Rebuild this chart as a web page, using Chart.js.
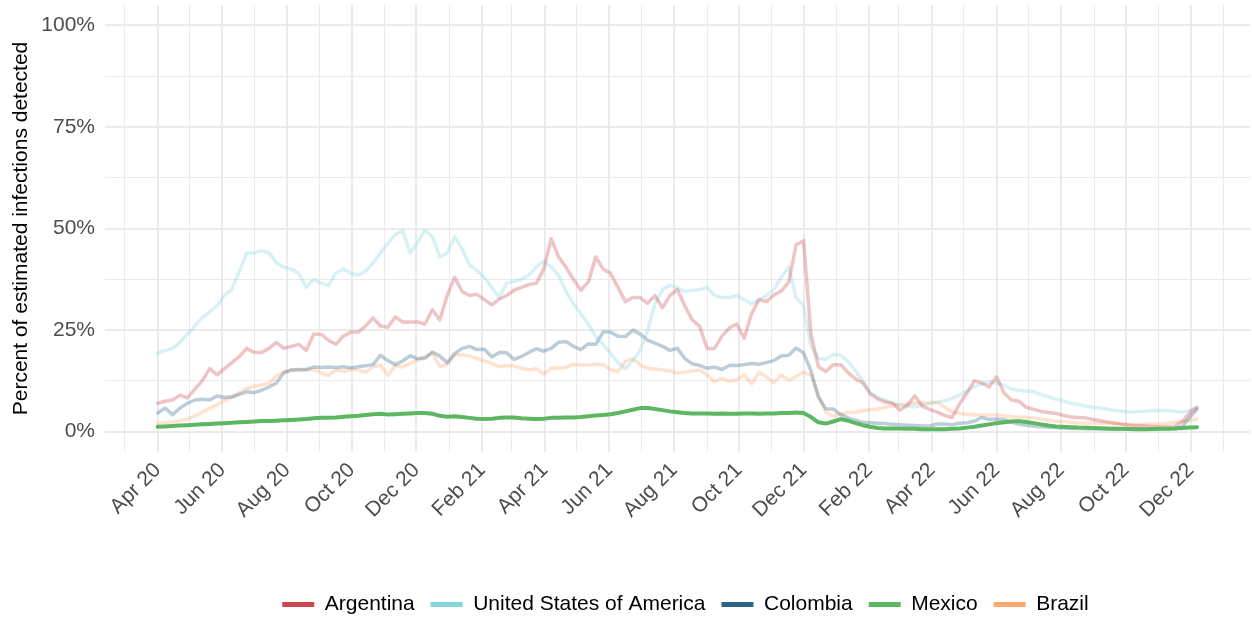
<!DOCTYPE html>
<html>
<head>
<meta charset="utf-8">
<title>Percent of estimated infections detected</title>
<script src="https://cdn.jsdelivr.net/npm/chart.js@4.4.1/dist/chart.umd.min.js"></script>
<style>
    html, body { margin: 0; padding: 0; background: #fff; overflow: hidden; }
    #wrap { width: 1252px; height: 617px; overflow: hidden; }
    #box { position: relative; width: 1252px; height: 625px; }
</style>
</head>
<body>
<div id="wrap"><div id="box"><canvas id="detectChart"></canvas></div></div>
<script>
// weekly series, first week starting 1 Apr 2020
const firstWeek = "2020-04-01";
const weekCount = 141;

const countries = ["Argentina", "United States of America", "Colombia", "Mexico", "Brazil"];
const countryColors = ["#c9474f", "#85d5de", "#2b6487", "#5cb662", "#ffa86e"];

const argentina = [
    7, 7.5, 7.8, 9, 8.3, 10.5, 12.5, 15.5, 14, 15.5,
    17, 18.5, 20.5, 19.5, 19.5, 20.5, 22, 20.5, 21, 21.5,
    20, 24, 24, 22.5, 21.5, 23.5, 24.5, 24.5, 26, 28,
    26, 25.7, 28.2, 27, 27, 27, 26.5, 30, 27.5, 33.5,
    38, 34.5, 33.5, 33.8, 32.5, 31.2, 32.6, 33.5, 34.8, 35.5,
    36.2, 36.5, 40, 47.5, 43, 40.5, 37.5, 34.8, 36.8, 43,
    40, 39, 35.5, 32, 33, 33, 31.6, 33.5, 30.5, 33.5,
    35, 31, 27.5, 26, 20.5, 20.5, 23.5, 25.5, 26.5, 23,
    29, 32.5, 32, 33.6, 34.6, 36.8, 46, 47, 24, 16,
    14.8, 16.5, 16.5, 14.5, 13, 12, 9.3, 8, 7.3, 7,
    5.3, 6.5, 8.8, 6.3, 5.5, 4.8, 4, 3.5, 6.8, 9.5,
    12.5, 12, 11, 13.5, 9.5, 7.8, 7.5, 6, 5.5, 5,
    4.7, 4.5, 4, 3.6, 3.5, 3.4, 3, 2.7, 2.4, 2.1,
    1.8, 1.6, 1.5, 1.4, 1.3, 1.2, 1.2, 1.3, 2.5, 4.6,
    6
];

const usa = [
    19.3, 20, 20.5, 22, 24, 26, 28, 29.5, 31, 33.5,
    35, 39.5, 44, 44, 44.5, 44, 41.5, 40.5, 40, 39,
    35.5, 37.5, 36.5, 36, 39, 40, 39, 38.5, 39.5, 41.5,
    44, 46.4, 48.5, 49.5, 44, 46.5, 49.5, 48, 43, 44,
    48, 45, 41, 39.7, 38, 35.5, 33, 36.5, 37, 37.5,
    38.5, 40.5, 42, 40.5, 38.5, 34.5, 31.5, 29, 26.5, 23.5,
    21.5, 19.3, 17, 15.5, 17.5, 20, 25, 31.5, 35, 36,
    35.5, 34.5, 34.8, 35, 35.5, 33.5, 33, 33, 33.5, 32.5,
    31.5, 32.4, 33.5, 35, 38, 40.5, 33, 31, 21, 18,
    17.8, 19, 18.8, 17.3, 15, 12.5, 9.5, 8.5, 7.8, 7,
    6.5, 6.3, 6.1, 6.5, 6.9, 7.2, 7.6, 8.2, 9, 10,
    11, 11.8, 12.2, 12, 11.5, 10.5, 10.2, 10, 9.8, 9.2,
    8.6, 8, 7.6, 7, 6.7, 6.3, 6, 5.8, 5.5, 5.2,
    5, 4.8, 4.9, 5, 5.2, 5.3, 5.2, 5, 4.8, 5.3,
    6
];

const colombia = [
    4.6, 5.8, 4.2, 5.8, 7, 7.8, 8, 7.8, 8.8, 8.4,
    8.6, 9.2, 9.8, 9.6, 10.2, 11, 12, 14.5, 15.2, 15.3,
    15.3, 15.9, 15.8, 15.9, 15.8, 16, 15.7, 16, 16.2, 16.5,
    18.8, 17.5, 16.5, 17.4, 18.7, 18, 18, 19.6, 18.6, 17,
    19.2, 20.5, 21, 20.2, 20.3, 18.4, 19.5, 19.4, 17.8, 18.5,
    19.5, 20.4, 19.8, 20.5, 22, 22.2, 21, 20.2, 21.6, 21.5,
    24.5, 24.5, 23.5, 23.4, 25, 24, 22.5, 21.8, 21, 20,
    20.5, 18, 16.7, 16.3, 15.6, 15.9, 15.3, 16.3, 16.3, 16.5,
    16.8, 16.6, 17, 17.5, 18.6, 18.8, 20.6, 19.4, 15, 8.5,
    5.6, 5.6, 4.2, 3.4, 2.8, 2.3, 2.2, 2.1, 2, 1.8,
    1.7, 1.6, 1.5, 1.4, 1.4, 1.9, 1.9, 1.7, 2.1, 2.2,
    2.6, 3.5, 3, 3.1, 3, 2.3, 1.9, 1.6, 1.4, 1.2,
    1.1, 1, 0.9, 0.8, 0.8, 0.7, 0.7, 0.7, 0.6, 0.6,
    0.6, 0.6, 0.6, 0.6, 0.7, 0.7, 0.7, 0.8, 1.2, 3.5,
    5.5
];

const mexico = [
    1.2, 1.3, 1.4, 1.5, 1.6, 1.7, 1.8, 1.9, 2, 2.1,
    2.2, 2.3, 2.4, 2.5, 2.6, 2.6, 2.7, 2.8, 2.9, 3,
    3.1, 3.3, 3.4, 3.4, 3.5, 3.7, 3.8, 3.9, 4.1, 4.3,
    4.4, 4.2, 4.3, 4.4, 4.5, 4.6, 4.6, 4.4, 3.9, 3.7,
    3.8, 3.6, 3.4, 3.2, 3.1, 3.2, 3.4, 3.5, 3.5, 3.3,
    3.2, 3.1, 3.2, 3.4, 3.4, 3.5, 3.5, 3.6, 3.8, 4,
    4.1, 4.3, 4.6, 5, 5.4, 5.8, 5.8, 5.6, 5.3, 5,
    4.8, 4.6, 4.5, 4.5, 4.5, 4.4, 4.5, 4.4, 4.4, 4.5,
    4.5, 4.4, 4.5, 4.5, 4.6, 4.6, 4.7, 4.6, 3.6, 2.3,
    2, 2.5, 3.1, 2.7, 2.1, 1.6, 1.2, 0.9, 0.8, 0.8,
    0.8, 0.7, 0.7, 0.6, 0.6, 0.6, 0.6, 0.7, 0.8, 1,
    1.2, 1.5, 1.8, 2.1, 2.3, 2.5, 2.6, 2.4, 2.1, 1.8,
    1.5, 1.3, 1.2, 1.1, 1, 0.95, 0.9, 0.85, 0.8, 0.75,
    0.7, 0.65, 0.6, 0.6, 0.65, 0.7, 0.75, 0.8, 0.9, 1,
    1.1
];

const brazil = [
    2, 2.2, 2.4, 2.7, 3.1, 3.9, 4.8, 5.8, 6.6, 7.7,
    8.4, 9.7, 10.6, 11.2, 11.5, 11.9, 13.7, 14.7, 15.1, 15.2,
    15.2, 15.3, 14.5, 13.8, 15.2, 14.8, 15.3, 15.2, 14.6, 15.9,
    16.4, 13.8, 16.2, 15.9, 16.8, 17.6, 18.6, 19.3, 16, 16.6,
    18.8, 19, 18.6, 18, 17.4, 16.8, 16, 16.2, 16.2, 15.6,
    15.2, 15.5, 14.2, 15.6, 15.7, 15.8, 16.6, 16.4, 16.4, 16.6,
    16.5, 15.2, 14.8, 17.3, 18, 16.4, 15.6, 15.4, 15.2, 15,
    14.4, 14.6, 14.9, 15.2, 14, 12.3, 13.2, 12.4, 12.8, 14,
    11.8, 14.6, 13.5, 12, 14, 12.6, 13.6, 14.6, 14, 9,
    4.8, 3.8, 4.3, 4.7, 4.8, 5.2, 5.4, 5.6, 6, 6.4,
    6.7, 6.9, 7, 7.1, 7.2, 7.3, 6, 4.9, 4.5, 4.3,
    4.1, 4.1, 4.1, 4.1, 3.9, 3.7, 3.6, 3.5, 3.4, 3.1,
    2.8, 2.6, 2.5, 2.3, 2.1, 2.1, 2.1, 2.1, 2.1, 2,
    1.9, 1.8, 1.7, 1.8, 1.9, 1.9, 2.1, 2.3, 2.5, 2.8,
    3.1
];

const seriesValues = [argentina, usa, colombia, mexico, brazil];

// axis range in days relative to 1 Apr 2020 (ggplot style 5% expansion)
const xMinDay = -49.7;
const xMaxDay = 1030;
const monthNames = ["Jan", "Feb", "Mar", "Apr", "May", "Jun", "Jul", "Aug", "Sep", "Oct", "Nov", "Dec"];

const DAY = 86400000;
const origin = Date.UTC(2020, 3, 1);

function weekDays() {
    const start = Date.parse(firstWeek + "T00:00:00Z");
    const out = [];
    for (let i = 0; i < weekCount; i++) {
        out.push((start - origin) / DAY + i * 7);
    }
    return out;
}

// month gridlines from Mar 2020 to Jan 2023, labels every 2nd month
function monthTicks() {
    const out = [];
    for (let m = -1; m <= 33; m++) {
        const d = new Date(Date.UTC(2020, 3 + m, 1));
        const day = (d.getTime() - origin) / DAY;
        if (day < xMinDay || day > xMaxDay) continue;
        const major = m % 2 === 0;
        const label = major ? monthNames[d.getUTCMonth()] + " " + String(d.getUTCFullYear()).slice(2) : "";
        out.push({ value: day, major: major, label: label });
    }
    return out;
}

const days = weekDays();
const months = monthTicks();

function withAlpha(hex, a) {
    const n = parseInt(hex.slice(1), 16);
    return `rgba(${(n >> 16) & 255}, ${(n >> 8) & 255}, ${n & 255}, ${a})`;
}

const datasets = countries.map((name, i) => {
    const isMexico = name === "Mexico";
    return {
        label: name,
        data: seriesValues[i].map((v, j) => ({ x: days[j], y: v })),
        borderColor: isMexico ? countryColors[i] : withAlpha(countryColors[i], 0.32),
        borderWidth: isMexico ? 4 : 3.5,
        pointRadius: 0,
        tension: 0,
        borderJoinStyle: "round",
        borderCapStyle: "round",
        fill: false,
        order: isMexico ? -1 : i,
    };
});

// no extra label padding around the panel, ggplot lets labels overhang
function noPadding(scale) {
    scale.paddingTop = 0;
    scale.paddingBottom = 0;
    scale.paddingLeft = 0;
    scale.paddingRight = 0;
}

// the legend in the original is centred on the panel, not the page
const shiftLegend = {
    id: "shiftLegend",
    afterLayout(chart) {
        const lg = chart.legend;
        const shift = (chart.chartArea.left + chart.chartArea.right) / 2 - (lg.left + lg.right) / 2 + 8;
        lg.left += shift;
        lg.right += shift;
    },
};

Chart.defaults.font.family = "'Liberation Sans', Arial, sans-serif";

const ctx = document.getElementById("detectChart").getContext("2d");
window.myChart = new Chart(ctx, {
    type: "line",
    data: { datasets: datasets },
    plugins: [shiftLegend],
    options: {
        responsive: true,
        maintainAspectRatio: false,
        animation: false,
        layout: { padding: { top: 5, right: 2, left: 0, bottom: 0 } },
        plugins: {
            tooltip: { enabled: false },
            legend: {
                position: "bottom",
                labels: {
                    boxWidth: 32,
                    boxHeight: 5,
                    padding: 16,
                    color: "#1a1a1a",
                    font: { size: 21 },
                    generateLabels: (chart) =>
                        chart.data.datasets.map((ds, i) => ({
                            text: ds.label,
                            fillStyle: countryColors[i],
                            strokeStyle: countryColors[i],
                            lineWidth: 0,
                            hidden: false,
                            datasetIndex: i,
                        })),
                },
            },
        },
        scales: {
            x: {
                type: "linear",
                min: xMinDay,
                max: xMaxDay,
                afterBuildTicks: (scale) => {
                    scale.ticks = months.map((m) => ({ value: m.value }));
                },
                afterFit: (scale) => {
                    scale.height = 126;
                    noPadding(scale);
                },
                ticks: {
                    autoSkip: false,
                    minRotation: 45,
                    maxRotation: 45,
                    padding: 6,
                    color: "#4d4d4d",
                    font: { size: 21 },
                    callback: (value, index) => (months[index] ? months[index].label : ""),
                },
                grid: {
                    color: "#ebebeb",
                    lineWidth: (c) => (months[c.index] && months[c.index].major ? 2 : 1),
                    drawTicks: false,
                },
                border: { display: false },
            },
            y: {
                min: -5,
                max: 105,
                afterBuildTicks: (scale) => {
                    scale.ticks = [0, 12.5, 25, 37.5, 50, 62.5, 75, 87.5, 100].map((v) => ({ value: v }));
                },
                afterFit: (scale) => {
                    scale.width = 105;
                    noPadding(scale);
                },
                ticks: {
                    padding: 10,
                    color: "#4d4d4d",
                    font: { size: 21 },
                    callback: (v) => (v % 25 === 0 ? v + "%" : ""),
                },
                grid: {
                    color: "#ebebeb",
                    lineWidth: (c) => (c.tick && c.tick.value % 25 === 0 ? 2 : 1),
                    drawTicks: false,
                },
                border: { display: false },
                title: {
                    display: true,
                    text: "Percent of estimated infections detected",
                    color: "#000",
                    font: { size: 21 },
                    padding: { top: 9, bottom: 0 },
                },
            },
        },
    },
});
</script>
</body>
</html>
